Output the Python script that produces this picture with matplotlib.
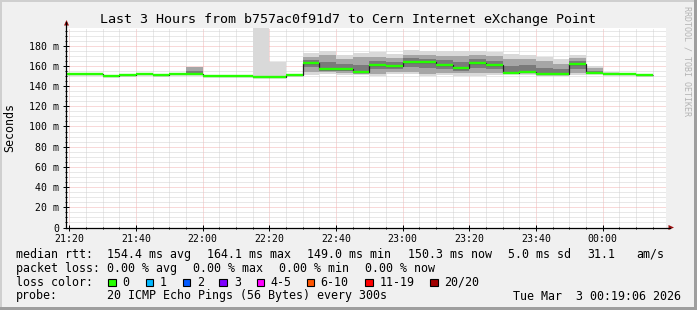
import numpy as np
import matplotlib
matplotlib.use('Agg')
import matplotlib.pyplot as plt
from matplotlib.patches import Rectangle, Polygon
from matplotlib.lines import Line2D

W, H = 697, 310
MONO = 'DejaVu Sans Mono'

# time axis in minutes after 21:00
t_first = 15          # start of first 5 min step shown
t_step = 5
xlim = (19.1, 199.1)  # 21:19:06 .. 00:19:06
xtick_pos = [20, 40, 60, 80, 100, 120, 140, 160, 180]
xtick_labels = ['21:20', '21:40', '22:00', '22:20', '22:40', '23:00', '23:20', '23:40', '00:00']
ytick_pos = [0, 20, 40, 60, 80, 100, 120, 140, 160, 180]

# median rtt per 5 min step (ms)
median_ms = [151.5, 151.5, 151.5, 149.5, 151.1, 152.1, 150.5, 151.5, 151.8, 150.1,
             150.1, 150.1, 149.1, 149.1, 150.5, 163.0, 156.7, 157.4, 153.8, 161.0,
             159.4, 163.7, 164.0, 161.0, 157.5, 163.0, 161.0, 153.1, 153.8, 151.8,
             151.5, 161.8, 153.1, 152.0, 151.8, 150.5]
# smoke: outer spread of the pings
smoke_lo = [151.5, 151.5, 151.5, 149.5, 151.1, 152.1, 150.5, 151.5, 151.5, 150.1,
            150.1, 150.1, 149.1, 149.1, 150.5, 151.0, 151.5, 150.5, 150.5, 149.8,
            151.5, 152.1, 149.8, 150.5, 150.0, 150.0, 150.5, 151.5, 151.0, 150.0,
            150.0, 151.0, 151.5, 151.5, 151.8, 150.5]
smoke_hi = [151.5, 151.5, 151.5, 149.5, 151.1, 152.1, 150.5, 151.5, 158.7, 150.1,
            150.1, 150.1, 215.0, 163.7, 150.5, 172.5, 175.2, 170.6, 173.2, 173.6,
            171.9, 175.5, 174.3, 174.3, 175.0, 175.0, 174.0, 171.6, 171.0, 169.0,
            166.6, 171.0, 159.7, 153.5, 151.8, 150.5]
# smoke: denser core
core_lo = [151.5, 151.5, 151.5, 149.5, 151.1, 152.1, 150.5, 151.5, 151.5, 150.1,
           150.1, 150.1, 149.1, 149.1, 150.5, 154.0, 153.5, 152.5, 152.0, 152.0,
           153.5, 154.0, 152.0, 153.0, 152.5, 153.0, 153.0, 152.5, 152.5, 151.0,
           151.0, 153.0, 152.0, 152.0, 151.8, 150.5]
core_hi = [151.5, 151.5, 151.5, 149.5, 151.1, 152.1, 150.5, 151.5, 158.7, 150.1,
           150.1, 150.1, 149.1, 149.1, 150.5, 169.0, 170.5, 167.0, 168.5, 169.0,
           168.0, 171.0, 170.5, 170.0, 170.0, 171.0, 169.5, 167.0, 167.0, 164.5,
           162.0, 167.5, 157.5, 152.5, 151.8, 150.5]

loss_labels = ['0', '1', '2', '3', '4-5', '6-10', '11-19', '20/20']
loss_colors = ['#26ff00', '#00b8ff', '#0059ff', '#7e00ff', '#ff00ff', '#ff5500', '#ff0000', '#a10000']


def fx(px):
    return px / W


def fy(py):
    return 1 - py / H


fig = plt.figure(figsize=(W / 100, H / 100), dpi=100, facecolor='#f0f0f0')

# frame shading
fig.add_artist(Rectangle((0, fy(2)), 1, 2 / H, transform=fig.transFigure, color='#cfcfcf', lw=0))
fig.add_artist(Rectangle((0, 0), 2 / W, 1, transform=fig.transFigure, color='#cfcfcf', lw=0))
fig.add_artist(Rectangle((0, 0), 1, 3 / H, transform=fig.transFigure, color='#9e9e9e', lw=0))
fig.add_artist(Rectangle((fx(W - 3), 0), 3 / W, 1, transform=fig.transFigure, color='#9e9e9e', lw=0))

ax = fig.add_axes([fx(66.4), fy(227.5), 600 / W, 200 / H])
ax.set_facecolor('white')
ax.set_xlim(*xlim)
ax.set_ylim(0, 198)

med = np.array(median_ms)
starts = t_first + t_step * np.arange(len(med))
s_lo, s_hi = np.array(smoke_lo), np.array(smoke_hi)
c_lo, c_hi = np.array(core_lo), np.array(core_hi)
i_lo, i_hi = (c_lo + med) / 2, (c_hi + med) / 2

ax.bar(starts, s_hi - s_lo, bottom=s_lo, width=t_step, align='edge', color='#d9d9d9', lw=0, zorder=2)
ax.bar(starts, c_hi - c_lo, bottom=c_lo, width=t_step, align='edge', color='#a6a6a6', lw=0, zorder=3)
ax.bar(starts, i_hi - i_lo, bottom=i_lo, width=t_step, align='edge', color='#7a7a7a', lw=0, zorder=4)

edges = np.append(starts, starts[-1] + t_step)
ax.stairs(med, edges, color='#202020', lw=0.9, zorder=5, baseline=None)
ax.hlines(med, starts, starts + t_step, color=loss_colors[0], lw=1.7, zorder=6)

# grid
ax.set_xticks(xtick_pos)
ax.set_xticklabels(xtick_labels)
ax.set_xticks(np.arange(20, 200, 5), minor=True)
ax.set_yticks(ytick_pos)
ax.set_yticklabels(['0'] + ['%d m' % v for v in ytick_pos[1:]])
ax.set_yticks(np.arange(0, 200, 5), minor=True)
ax.grid(which='minor', color='#d2d2d2', lw=0.72, ls=(0, (1, 1)), zorder=1)
ax.grid(which='major', color='#f3b4b4', lw=0.72, ls=(0, (1, 1)), zorder=1)
ax.set_axisbelow(True)
for s in ax.spines.values():
    s.set_visible(False)
ax.tick_params(which='major', direction='inout', length=4, width=0.72, color='black',
               labelsize=7.1, labelfontfamily=MONO, pad=3)
ax.tick_params(which='minor', direction='inout', length=2, width=0.72, color='black')

# axes lines with arrows
fig.add_artist(Line2D([fx(66.4), fx(66.4)], [fy(227.5), fy(22)], transform=fig.transFigure, color='black', lw=0.9))
fig.add_artist(Line2D([fx(66.4), fx(670)], [fy(227.5), fy(227.5)], transform=fig.transFigure, color='black', lw=0.9))
fig.add_artist(Polygon([(fx(64), fy(25.5)), (fx(69), fy(25.5)), (fx(66.5), fy(20))], closed=True,
                       transform=fig.transFigure, color='#9b1010', lw=0))
fig.add_artist(Polygon([(fx(668.5), fy(225)), (fx(668.5), fy(230)), (fx(674), fy(227.5))], closed=True,
                       transform=fig.transFigure, color='#9b1010', lw=0))

fig.text(fx(348.5), fy(19), 'Last 3 Hours from b757ac0f91d7 to Cern Internet eXchange Point',
         ha='center', va='center', family=MONO, fontsize=9.6)
fig.text(fx(10), fy(127), 'Seconds', rotation=90, ha='center', va='center', family=MONO, fontsize=8.4)
fig.text(fx(687), fy(6), 'RRDTOOL / TOBI OETIKER', rotation=270, ha='center', va='top',
         family=MONO, fontsize=6, color='#b4b4b4')

# legend rows
fs = 8.35
rows = [
    (254.3, [(16, 'median rtt:'), (107.3, '154.4 ms avg'), (207.3, '164.1 ms max'),
             (307.3, '149.0 ms min'), (407.7, '150.3 ms now'), (507.7, '5.0 ms sd'),
             (587.7, '31.1'), (636, 'am/s')]),
    (268.3, [(16, 'packet loss:'), (107.3, '0.00 % avg'), (193.3, '0.00 % max'),
             (279.3, '0.00 % min'), (365.0, '0.00 % now')]),
    (282.3, [(16, 'loss color:')]),
    (296.0, [(16, 'probe:'), (107.3, '20 ICMP Echo Pings (56 Bytes) every 300s'),
             (513.3, 'Tue Mar  3 00:19:06 2026')]),
]
for y, items in rows:
    for x, s in items:
        fig.text(fx(x), fy(y), s, ha='left', va='center', family=MONO, fontsize=fs)

box_x = [108.3, 145.7, 182.7, 219.3, 256.7, 306.7, 365, 430]
lab_x = [122.7, 160, 197, 234, 270.7, 320.7, 379.3, 444.3]
for bx, lx, lab, col in zip(box_x, lab_x, loss_labels, loss_colors):
    fig.add_artist(Rectangle((fx(bx), fy(286.2)), 7.5 / W, 7.5 / H, transform=fig.transFigure,
                             facecolor=col, edgecolor='black', lw=0.8))
    fig.text(fx(lx), fy(282.3), lab, ha='left', va='center', family=MONO, fontsize=fs)

fig.savefig('out.png', dpi=100, facecolor=fig.get_facecolor())
